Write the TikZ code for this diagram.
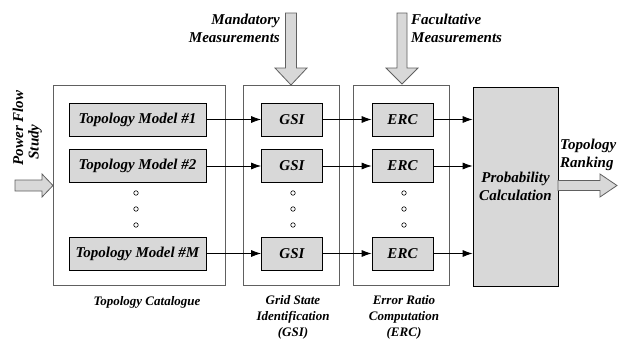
\documentclass[tikz,border=0pt]{standalone}
\usepackage{fontspec}
\setmainfont{Liberation Serif}
\usetikzlibrary{arrows.meta,calc}
\definecolor{boxgray}{RGB}{216,216,216}
\definecolor{framegray}{RGB}{96,96,96}
\begin{document}
\begin{tikzpicture}[x=1pt,y=-1pt,
  lbl/.style={font=\fontsize{15}{18}\selectfont\bfseries\itshape, inner sep=0pt},
  sublbl/.style={font=\fontsize{13}{16}\selectfont\bfseries\itshape, inner sep=0pt, align=center},
  inbox/.style={draw=black, fill=boxgray, line width=0.8pt, minimum height=33pt, inner sep=0pt,
     font=\fontsize{15}{18}\selectfont\bfseries\itshape},
  frame/.style={draw=framegray, line width=0.9pt},
  conn/.style={draw=black, line width=0.8pt, -{Latex[length=10pt,width=7pt]}},
  blockarrow/.style={draw=framegray, fill=boxgray, line width=0.8pt, line join=miter},
  dotc/.style={draw=black, fill=white, line width=0.6pt, circle, minimum size=4.5pt, inner sep=0pt}
]
\useasboundingbox (0,0) rectangle (619,340);

% outer frames
\draw[frame] (53,85) rectangle (225,285);
\draw[frame] (243,85) rectangle (339,285);
\draw[frame] (353,85) rectangle (449,285);

% probability box
\node[draw=black, fill=boxgray, line width=0.8pt, minimum width=85pt, minimum height=199pt, inner sep=0pt,
  font=\fontsize{15}{18}\selectfont\bfseries\itshape, align=center] (prob) at (515.5,186.5)
  {Probability\\Calculation};

% topology models
\node[inbox, minimum width=137pt] (tm1) at (137.5,119.5) {Topology Model \#1};
\node[inbox, minimum width=137pt] (tm2) at (137.5,166) {Topology Model \#2};
\node[inbox, minimum width=137pt] (tmM) at (137.5,253.5) {Topology Model \#M};

\node[inbox, minimum width=61pt] (g1) at (292,119.5) {GSI};
\node[inbox, minimum width=61pt] (g2) at (292,166) {GSI};
\node[inbox, minimum width=61pt] (gM) at (292,253.5) {GSI};

\node[inbox, minimum width=61pt] (e1) at (402.5,119.5) {ERC};
\node[inbox, minimum width=61pt] (e2) at (402.5,166) {ERC};
\node[inbox, minimum width=61pt] (eM) at (402.5,253.5) {ERC};

% dots
\foreach \x/\n in {136/a,293/b,404/c}{
  \node[dotc] (d\n1) at (\x,193) {};
  \node[dotc] (d\n2) at (\x,209) {};
  \node[dotc] (d\n3) at (\x,225) {};
}

% connectors
\foreach \r in {1,2,M}{
  \draw[conn] (tm\r.east) -- (g\r.west);
  \draw[conn] (g\r.east) -- (e\r.west);
  \draw[conn] (e\r.east) -- (e\r.east -| prob.west);
}

% block arrows
\draw[blockarrow] (285.5,13) -- (296.5,13) -- (296.5,68) -- (307,68) -- (291,85) -- (275,68) -- (285.5,68) -- cycle;
\draw[blockarrow] (397,13) -- (407,13) -- (407,68) -- (418,68) -- (402,84) -- (386,68) -- (397,68) -- cycle;
\draw[blockarrow] (15,180) -- (42,180) -- (42,174) -- (53,185.5) -- (42,197) -- (42,191) -- (15,191) -- cycle;
\draw[blockarrow] (558,180.5) -- (600,180.5) -- (600,174) -- (617,185.5) -- (600,197) -- (600,190.5) -- (558,190.5) -- cycle;

% labels
\node[lbl, align=right, anchor=east] (mand) at (280,28) {Mandatory\\Measurements};
\node[lbl, align=left, anchor=west] (fac) at (411,28) {Facultative\\Measurements};
\node[lbl, align=left, anchor=west] (rank) at (560,154.5) {Topology\\Ranking};
\node[lbl, rotate=90] (pf) at (18,128) {Power Flow};
\node[lbl, rotate=90] (st) at (35,142) {Study};

\node[sublbl] (cat) at (147,302) {Topology Catalogue};
\node[sublbl, anchor=north] (gsilbl) at (293,295) {Grid State\\Identification\\(GSI)};
\node[sublbl, anchor=north] (erclbl) at (404,295) {Error Ratio\\Computation\\(ERC)};
\end{tikzpicture}
\end{document}
